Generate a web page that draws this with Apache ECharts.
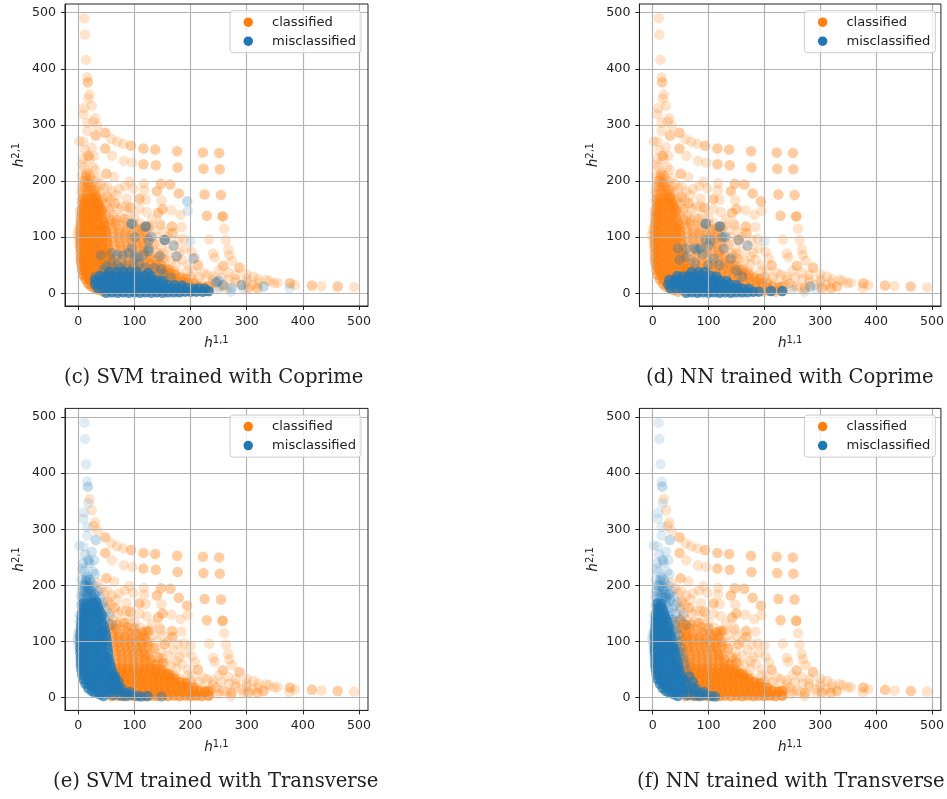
<!DOCTYPE html>
<html><head><meta charset="utf-8">
<style>html,body{margin:0;padding:0;background:#fff}#c{width:947px;height:799px}</style>
<script src="https://cdn.jsdelivr.net/npm/echarts@6/dist/echarts.min.js"></script>
</head><body><div id="c"></div>
<script>
const tickValues=[0,100,200,300,400,500];
const captions=["(c) SVM trained with Coprime","(d) NN trained with Coprime","(e) SVM trained with Transverse","(f) NN trained with Transverse"];
const sparse=[[11,490],[12,461],[14,416],[16,385],[17,376],[17,376],[20,354],[18,347],[24,334],[10,330],[9,319],[30,312],[27,306],[16,304],[34,298],[16,289],[31,281],[31,281],[2,271],[9,270],[48,286],[48,286],[59,275],[69,270],[80,266],[94,263],[94,263],[116,258],[116,258],[137,256],[137,256],[176,253],[176,253],[222,251],[222,251],[251,250],[251,250],[48,258],[48,258],[60,245],[81,236],[96,233],[116,230],[116,230],[138,228],[138,228],[177,224],[177,224],[223,222],[223,222],[252,221],[252,221],[18,245],[18,245],[50,213],[50,213],[64,207],[91,199],[83,191],[117,196],[98,187],[147,195],[147,195],[164,194],[164,194],[117,184],[140,182],[140,182],[179,178],[179,178],[225,176],[225,176],[254,175],[254,175],[52,172],[52,172],[68,175],[86,169],[109,168],[109,168],[120,167],[148,166],[194,164],[194,164],[195,147],[65,160],[65,160],[78,154],[93,153],[93,153],[109,150],[122,145],[150,150],[150,150],[142,143],[142,143],[166,148],[182,140],[229,138],[229,138],[257,137],[257,137],[257,137],[131,131],[147,121],[167,119],[167,119],[184,118],[260,115],[120,119],[120,119],[95,124],[152,110],[168,108],[168,108],[188,97],[200,93],[233,96],[263,95],[154,95],[154,95],[125,100],[170,85],[267,78],[240,71],[269,68],[189,80],[202,74],[175,66],[243,64],[274,58],[208,63],[144,66],[213,50],[213,50],[258,49],[258,49],[287,46],[287,46],[175,52],[150,43],[223,36],[230,33],[267,37],[240,24],[281,33],[300,34],[312,30],[321,25],[335,24],[349,18],[355,19],[377,18],[377,18],[386,15],[416,14],[416,14],[433,13],[462,12],[462,12],[491,11],[376,10],[330,12],[330,12],[319,9],[319,9],[303,9],[303,9],[294,8],[291,15],[272,3],[273,9],[273,9],[258,12],[246,18],[249,7],[232,4],[211,5]];
const haze=[[34,205],[40,195],[45,188],[52,190],[60,182],[72,186],[58,165],[70,150],[85,155],[55,150],[48,160],[62,140],[75,135],[90,140],[100,135],[110,125],[65,125],[82,120],[105,112],[115,108],[135,112],[140,100],[148,82],[160,75],[165,58],[185,60],[195,50],[155,60],[170,40],[180,35],[200,30],[215,28],[130,85],[118,75],[135,60],[110,90],[90,105],[75,108],[145,125],[128,120],[160,100],[178,95],[180,72],[195,40],[205,38],[240,30],[255,28],[268,25],[280,20],[300,20],[310,15],[320,18],[250,40],[280,25],[300,25],[340,22],[190,25],[205,22],[220,18],[235,16],[250,12],[265,10],[160,35],[150,70],[125,65],[140,48]];
const fringe=[[-1,104],[1,95],[2,120],[3,147],[3,135],[5,165],[5,180],[6,210],[7,230],[8,240],[10,225],[16,215],[26,225],[30,220],[22,205],[28,200],[35,190],[38,180],[44,170],[50,155],[55,145],[60,130],[30,185],[40,165],[12,255],[20,240],[24,260],[28,245],[8,200],[14,212],[6,190],[20,195],[25,180],[32,172],[36,160],[42,150],[48,140],[0,112],[2,85],[3,70],[4,60]];
const coreTop=[[9,176],[16,177],[24,175],[31,176],[10,184],[16,183],[22,185],[28,184],[11,192],[17,193],[23,191],[12,200],[18,199],[14,208],[20,210]];
const coreLeft=[[45,3],[38,6],[30,9],[24,12],[36,10],[46,9],[55,8],[18,17],[26,18],[34,17],[44,16],[52,16],[60,15],[68,14],[13,25],[19,25],[27,24],[35,23],[43,25],[51,24],[59,23],[67,24],[9,33],[15,32],[21,31],[27,32],[35,33],[43,31],[51,32],[59,33],[65,31],[7,41],[12,41],[18,39],[26,40],[34,41],[42,39],[50,40],[58,41],[63,39],[6,49],[11,47],[19,49],[27,48],[35,47],[43,49],[51,48],[60,47],[5,56],[10,57],[18,55],[26,56],[34,57],[42,55],[50,56],[58,55],[5,64],[11,63],[19,65],[27,64],[35,63],[43,65],[51,64],[56,63],[5,72],[10,73],[18,71],[26,72],[34,73],[42,71],[50,72],[54,71],[4,80],[11,79],[19,81],[27,80],[35,79],[43,81],[53,80],[4,88],[10,89],[18,87],[26,88],[34,89],[42,87],[52,88],[4,96],[11,95],[19,97],[27,96],[35,95],[43,97],[51,96],[4,104],[10,105],[18,103],[26,104],[34,105],[42,103],[50,104],[4,112],[11,111],[19,113],[27,112],[35,111],[43,113],[49,112],[5,120],[10,121],[18,119],[26,120],[34,121],[42,119],[47,120],[5,128],[11,127],[19,129],[27,128],[35,127],[45,128],[6,136],[10,137],[18,135],[26,136],[34,137],[42,135],[6,144],[11,143],[19,145],[27,144],[38,143],[42,146],[7,152],[12,153],[20,151],[28,152],[34,151],[38,154],[8,160],[14,161],[22,159],[30,160],[35,162],[8,168],[15,167],[22,169],[27,168],[32,170]];
const coreLeftF=[[45,3],[38,6],[30,9],[24,12],[36,10],[46,9],[55,8],[18,17],[26,18],[34,17],[44,16],[52,16],[60,15],[13,25],[19,25],[27,24],[35,23],[43,25],[51,24],[58,23],[9,33],[15,32],[21,31],[27,32],[35,33],[43,31],[50,32],[55,33],[7,41],[12,41],[18,39],[26,40],[34,41],[42,39],[50,40],[6,49],[11,47],[19,49],[27,48],[35,47],[43,49],[48,48],[5,56],[10,57],[18,55],[26,56],[34,57],[42,55],[46,56],[5,64],[11,63],[19,65],[27,64],[35,63],[44,64],[5,72],[10,73],[18,71],[26,72],[34,73],[42,71],[4,80],[11,79],[19,81],[27,80],[35,79],[40,81],[4,88],[10,89],[18,87],[26,88],[34,89],[38,87],[4,96],[11,95],[19,97],[27,96],[36,95],[4,104],[10,105],[18,103],[26,104],[34,105],[4,112],[11,111],[19,113],[27,112],[32,111],[5,120],[10,121],[18,119],[26,120],[30,121],[5,128],[11,127],[19,129],[28,128],[6,136],[10,137],[18,135],[26,136],[6,144],[11,143],[19,145],[23,144],[7,152],[12,153],[20,151],[8,160],[14,161],[18,159],[8,168],[15,167]];
const haloF=[[46,112],[42,120],[40,130],[36,140],[32,150],[28,160],[24,168],[22,178],[45,100],[50,90],[52,80],[55,70],[58,60],[60,50],[42,92],[46,82],[48,72],[40,108],[35,122],[32,135],[28,145]];
const midFillF=[[52,44],[58,38],[62,46],[54,52],[60,56],[56,64],[62,66],[50,70],[56,76],[48,84],[54,88],[60,82],[46,96],[52,102],[58,96],[48,112],[56,110],[44,124],[52,124],[42,136],[50,138],[60,128],[60,108]];
const tailBlue=[[75,12],[85,8],[70,20],[78,16],[72,28],[95,5],[105,3],[62,5],[75,4],[85,3],[92,10],[66,38],[112,2]];
const coreMid=[[60,3],[70,4],[80,3],[90,4],[100,3],[110,4],[120,3],[130,4],[140,3],[150,4],[160,3],[170,4],[180,3],[190,4],[200,3],[210,4],[220,3],[232,4],[65,11],[75,12],[85,11],[95,12],[105,11],[115,12],[125,11],[135,12],[145,11],[155,12],[165,11],[175,12],[185,11],[195,12],[205,11],[215,12],[225,11],[232,12],[65,20],[75,19],[85,20],[95,19],[105,20],[115,19],[125,20],[135,19],[145,20],[155,19],[165,20],[175,19],[185,20],[195,19],[205,18],[62,28],[72,27],[82,28],[92,27],[102,28],[112,27],[122,28],[132,27],[142,28],[152,27],[162,28],[172,27],[182,28],[192,26],[64,36],[74,35],[84,36],[94,35],[104,36],[114,35],[124,36],[134,35],[144,36],[154,35],[164,36],[172,34],[66,44],[76,43],[86,44],[96,43],[106,44],[116,43],[126,44],[136,43],[146,44],[156,43],[162,42],[68,52],[78,51],[88,52],[98,51],[108,52],[118,51],[128,52],[138,51],[148,50]];
const coreMidUpper=[[68,60],[78,59],[88,60],[98,59],[108,60],[118,59],[128,60],[138,59],[150,62],[68,68],[78,67],[88,68],[98,67],[108,68],[118,67],[128,68],[142,72],[68,76],[78,75],[88,76],[98,75],[108,76],[118,75],[125,76],[66,84],[76,83],[86,84],[96,83],[106,84],[116,83],[135,88],[64,92],[74,91],[84,92],[94,91],[104,92],[114,91],[124,92],[62,100],[72,99],[82,100],[92,99],[102,100],[112,99],[122,100],[62,108],[72,107],[84,108],[96,107],[108,108],[118,107],[60,116],[72,115],[88,116],[102,115],[114,116],[124,118],[56,124],[68,123],[86,125],[100,124],[55,132],[68,131],[82,133]];
const bandC=[[50,1],[60,2],[70,1],[80,2],[90,1],[100,2],[110,1],[120,2],[130,1],[140,2],[150,1],[160,2],[170,2],[180,2],[190,3],[200,3],[210,3],[222,3],[232,4],[35,9],[45,8],[55,9],[65,8],[75,9],[85,8],[95,9],[105,8],[115,9],[125,8],[135,9],[145,8],[155,9],[165,8],[175,9],[185,8],[195,9],[205,8],[215,9],[225,8],[30,16],[40,17],[50,16],[60,17],[70,16],[80,17],[90,16],[100,17],[110,16],[120,17],[130,16],[140,17],[150,16],[160,15],[172,15],[185,14],[30,24],[40,23],[50,24],[60,23],[70,24],[80,23],[90,24],[100,23],[110,24],[120,23],[130,24],[140,23],[150,22],[38,31],[48,30],[58,31],[68,30],[78,31],[88,30],[98,31],[108,30],[118,31],[130,30],[55,38],[68,38],[80,39],[92,38],[104,38],[124,36]];
const scatterC=[[50,48],[70,50],[85,50],[100,45],[120,45],[135,45],[40,68],[70,68],[80,68],[95,80],[105,65],[125,80],[125,75],[100,100],[125,95],[120,119],[120,119],[95,124],[95,124],[130,101],[145,66],[148,43],[154,95],[154,95],[170,85],[175,66],[205,62],[245,20],[250,22],[258,15],[291,15],[60,55],[110,52],[150,35],[165,28],[30,30],[45,42],[60,72],[90,72],[115,68],[100,62],[75,45]];
const sparseBlueC=[[194,164],[195,147],[200,93],[330,12],[376,10],[272,3],[273,9],[294,8],[249,7],[232,4],[211,5]];
const bandD=[[60,1],[70,2],[80,1],[90,2],[100,1],[110,2],[120,1],[130,2],[140,1],[150,2],[160,2],[170,2],[180,3],[190,3],[212,4],[232,4],[32,9],[42,8],[52,9],[62,8],[72,9],[82,8],[92,9],[102,8],[112,9],[122,8],[132,9],[142,8],[152,9],[162,8],[172,8],[28,16],[38,17],[48,16],[58,17],[68,16],[78,17],[88,16],[98,17],[108,16],[118,17],[128,16],[138,16],[150,15],[30,24],[40,23],[50,24],[60,23],[70,24],[80,23],[90,24],[100,23],[110,24],[120,23],[132,22],[44,31],[54,30],[64,31],[74,30],[84,31],[94,30],[104,31],[114,30],[70,38],[82,38],[94,38]];
const scatterD=[[95,124],[95,124],[120,119],[120,119],[125,100],[95,95],[105,95],[100,85],[130,101],[127,80],[154,95],[170,85],[45,80],[75,80],[60,80],[85,80],[80,78],[60,65],[90,70],[120,50],[150,40],[160,30],[282,12],[140,62],[110,62],[48,60],[75,55],[100,50]];
const sparseBlueD=[[200,93],[272,3],[249,7],[232,4],[211,5],[294,8]];
const bandE=[[123,3],[123,3],[148,2]];
const sparseBlueE=[[11,490],[12,461],[14,416],[16,385],[17,376],[18,347],[10,330],[9,319],[16,304],[16,289],[31,281],[2,271],[9,270],[18,245]];
const ORANGE="#ff7f0e",BLUE="#1f77b4";
const xLeft=[65,639.4],yTop=[4,408.4];
const panels=[
 {c:0,r:0,orange:[[haze,.2],[fringe,.2],[coreTop,.3],[coreLeft,.6],[coreMid,.5],[coreMidUpper,.32]],blue:[[bandC,.72],[scatterC,.3]],sb:sparseBlueC},
 {c:1,r:0,orange:[[haze,.2],[fringe,.2],[coreTop,.3],[coreLeft,.5],[coreMid,.42],[coreMidUpper,.28]],blue:[[bandD,.72],[scatterD,.3]],sb:sparseBlueD},
 {c:0,r:1,orange:[[haze,.2],[coreMid,.65],[coreMidUpper,.42]],blue:[[fringe,.2],[coreTop,.3],[coreLeft,.7],[tailBlue,.6],[bandE,.4]],sb:sparseBlueE},
 {c:1,r:1,orange:[[haze,.2],[midFillF,.4],[coreMid,.65],[coreMidUpper,.42]],blue:[[fringe,.16],[coreTop,.2],[haloF,.22],[coreLeftF,.7],[tailBlue,.6]],sb:sparseBlueE}
];
const same=(a,b)=>a[0]===b[0]&&a[1]===b[1];
const grid=[],xAxis=[],yAxis=[],series=[],legend=[],title=[];
const axisBase=(mn,mx)=>({type:"value",min:mn,max:mx,z:5,
  axisLine:{show:true,onZero:false,lineStyle:{color:"#222",width:1}},
  axisTick:{show:true,length:4,customValues:tickValues,lineStyle:{color:"#222"}},
  axisLabel:{customValues:tickValues,color:"#222",fontSize:12.6,fontFamily:"DejaVu Sans",margin:9},
  splitLine:{show:true,lineStyle:{color:"#b4b4b4",width:1.2}},
  nameLocation:"middle",
  nameTextStyle:{rich:{h:{fontFamily:"DejaVu Sans",fontStyle:"italic",fontSize:13.5,color:"#222"},s:{fontFamily:"DejaVu Sans",fontSize:10,color:"#222",verticalAlign:"top",padding:[0,0,6,0]}}}});
const capLeft=[[64,646],[53,637]];
panels.forEach((p,i)=>{
  const L=xLeft[p.c],T=yTop[p.r];
  grid.push({left:L,top:T,width:303,height:302,show:true,borderColor:"#222",borderWidth:1,backgroundColor:"transparent",z:6});
  xAxis.push(Object.assign(axisBase(-23.7,516),{gridIndex:i,name:"{h|h}{s|1,1}",nameGap:29}));
  yAxis.push(Object.assign(axisBase(-22.6,515.4),{gridIndex:i,name:"{h|h}{s|2,1}",nameGap:38}));
  const mk=(name,data,op,color)=>series.push({type:"scatter",name,xAxisIndex:i,yAxisIndex:i,data,symbolSize:10.5,z:2,silent:true,animation:false,
     itemStyle:{color,opacity:op,borderWidth:0}});
  const oSparse=sparse.filter(s=>!p.sb.some(b=>same(b,s)));
  const bSparse=sparse.filter(s=>p.sb.some(b=>same(b,s)));
  mk("classified",oSparse,.22,ORANGE);
  p.orange.forEach(([d,o])=>mk("classified",d,o,ORANGE));
  p.blue.forEach(([d,o])=>mk("misclassified",d,o,BLUE));
  mk("misclassified",bSparse,.14,BLUE);
  legend.push({orient:"vertical",left:L+165,top:T+6.7,padding:[5,5,5,13.5],itemWidth:9.5,itemHeight:9.5,itemGap:6,icon:"circle",
    backgroundColor:"rgba(255,255,255,.8)",borderColor:"#ccc",borderWidth:1,borderRadius:3,selectedMode:false,z:8,
    textStyle:{fontFamily:"DejaVu Sans",fontSize:13.1,color:"#222",padding:[0,0,0,14]},
    data:[{name:"classified",itemStyle:{color:ORANGE,opacity:1}},{name:"misclassified",itemStyle:{color:BLUE,opacity:1}}]});
  title.push({text:captions[i],left:capLeft[p.r][p.c],top:T+364,padding:0,textStyle:{fontFamily:"DejaVu Serif",fontWeight:"normal",fontSize:19.6,color:"#222"}});
});
const chart=echarts.init(document.getElementById("c"),null,{renderer:"canvas"});
chart.setOption({animation:false,grid,xAxis,yAxis,series,legend,title,tooltip:{show:false}});
</script></body></html>
